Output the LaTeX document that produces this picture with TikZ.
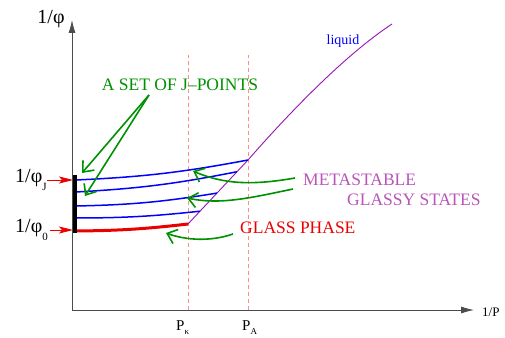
\documentclass[tikz,border=0pt]{standalone}
\usepackage{fontspec}
\setmainfont{Liberation Serif}
\usetikzlibrary{arrows.meta}
\definecolor{gr}{RGB}{0,145,0}
\definecolor{pu}{RGB}{185,85,185}
\definecolor{liq}{RGB}{150,20,180}
\definecolor{pk}{RGB}{255,140,140}
\definecolor{rd}{RGB}{235,0,0}
\newcommand\lowsub[2]{\raisebox{#1}{\fontsize{11}{11}\selectfont #2}}
\begin{document}
\begin{tikzpicture}[x=1pt,y=-1pt,
  axis/.style={draw=black!70,line width=0.8pt,-{Latex[length=13pt,width=7pt]}},
  guide/.style={draw=pk,line width=0.9pt,dash pattern=on 4pt off 3pt},
  bline/.style={draw=blue,line width=1.5pt},
  garr/.style={draw=gr,line width=1.6pt,-{Straight Barb[length=9pt,width=15pt]}},
  rarr/.style={draw=rd,line width=0.8pt,-{Stealth[length=14pt,width=7pt,inset=3pt]}},
  lab/.style={font=\fontsize{17.5}{20}\selectfont,inner sep=0pt,anchor=west},
  phil/.style={font=\fontsize{20}{22}\selectfont,inner sep=0pt,anchor=base west},
  plab/.style={font=\fontsize{15}{16}\selectfont,inner sep=0pt,anchor=base west}]
\useasboundingbox (0,0) rectangle (505,337);

% axes
\coordinate (O) at (72,310);
\coordinate (ytip) at (72,20);
\coordinate (xtip) at (474,310);
\draw[axis] (O) -- (ytip);
\draw[axis] (O) -- (xtip);
\node[inner sep=0pt,font=\fontsize{20}{22}\selectfont] (ylab) at (51,19) {1/φ};
\node[inner sep=0pt,anchor=base west,font=\fontsize{13}{14}\selectfont] (xlab) at (482,316) {1/P};

% dashed guides
\coordinate (gkb) at (188,310); \coordinate (gkt) at (188,55);
\coordinate (gab) at (248,310); \coordinate (gat) at (248,55);
\draw[guide] (gkb) -- (gkt);
\draw[guide] (gab) -- (gat);
\node[plab] (Pk) at (176,330) {P\lowsub{-4pt}{\fontsize{9}{9}\selectfont κ}};
\node[plab] (Pa) at (242,330) {P\lowsub{-4pt}{\fontsize{9}{9}\selectfont A}};

% liquid curve
\coordinate (lk) at (188,224);
\coordinate (la) at (248,160);
\coordinate (lend) at (392,24);
\path (lk) -- (la)
  coordinate[pos=0.2] (e4)
  coordinate[pos=0.483] (e3)
  coordinate[pos=0.817] (e2);
\draw[liq,line width=0.9pt] (lk) -- (la) .. controls (290,112) and (345,55) .. (lend);
\node[inner sep=0pt,text=blue,font=\fontsize{14}{15}\selectfont] (liquid) at (343,41) {liquid};

% J bar and glassy lines
\coordinate (barT) at (75,175);
\coordinate (barB) at (75,233);
\coordinate (s1) at (76,180);
\coordinate (s2) at (76,192);
\coordinate (s3) at (76,206);
\coordinate (s4) at (76,218);
\coordinate (s0) at (76,231);
\draw[bline] (s1) to[bend right=4] (la);
\draw[bline] (s2) to[bend right=4] (e2);
\draw[bline] (s3) to[bend right=4] (e3);
\draw[bline] (s4) to[bend right=3] (e4);
\draw[draw=rd,line width=3pt] (s0) to[bend right=3] (lk);
\draw[line width=4pt] (barT) -- (barB);

% 1/phi labels with red arrows
\node[phil] (phiJ) at (15,182) {1/φ\lowsub{-8pt}{J}};
\node[phil] (phi0) at (15,232) {1/φ\lowsub{-8pt}{0}};
\coordinate (rJs) at (47,180); \coordinate (rJe) at (73,180);
\coordinate (r0s) at (50,230); \coordinate (r0e) at (73,230);
\draw[rarr] (rJs) -- (rJe);
\draw[rarr] (r0s) -- (r0e);

% texts
\node[lab,anchor=center,text=gr] (jset) at (180,85) {A SET OF J–POINTS};
\node[lab,text=pu] (meta) at (303,180) {METASTABLE};
\node[lab,text=pu] (glassy) at (347,200) {GLASSY STATES};
\node[lab,text=rd] (gphase) at (240,228) {GLASS PHASE};

% green arrows
\coordinate (js) at (149,95);
\coordinate (jt1) at (82,173);
\coordinate (jt2) at (85,196);
\draw[garr] (js) -- (jt1);
\draw[garr] (js) -- (jt2);
\coordinate (m1s) at (295,178); \coordinate (m1t) at (193,171);
\coordinate (m2s) at (293,189); \coordinate (m2t) at (187,198);
\coordinate (g0s) at (233,234); \coordinate (g0t) at (166,233);
\draw[garr] (m1s) .. controls (255,185) and (225,185) .. (m1t);
\draw[garr] (m2s) .. controls (250,198) and (220,205) .. (m2t);
\draw[garr] (g0s) .. controls (210,242) and (185,240) .. (g0t);
\end{tikzpicture}
\end{document}
